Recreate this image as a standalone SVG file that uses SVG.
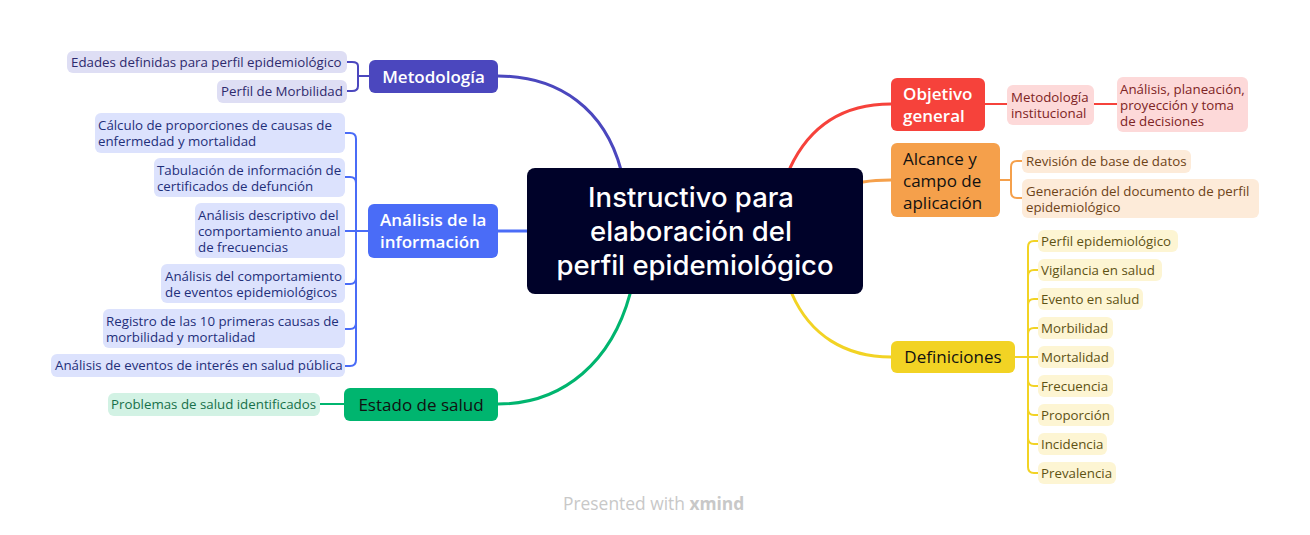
<svg xmlns="http://www.w3.org/2000/svg" width="1310" height="535" viewBox="0 0 1310 535">
<style>
text{font-family:"Open Sans","Liberation Sans",sans-serif;}
.sub{font-size:13.3px;}
.main{font-size:17px;font-weight:600;}
.mainr{font-size:17px;font-weight:500;fill:#111;}
.c{fill:none;stroke-linecap:round;stroke-linejoin:round;}
</style>
<rect width="1310" height="535" fill="#fff"/>
<g id="connectors">
  <path class="c" d="M621 170 C605 110 560 76 498 76" stroke="#4B47BE" stroke-width="3"/>
  <path class="c" d="M498 231 H527" stroke="#4A6CF7" stroke-width="3"/>
  <path class="c" d="M630 294 C612 360 565 404 498 404" stroke="#00B56F" stroke-width="3"/>
  <path class="c" d="M790 168 C810 125 845 104 891 104" stroke="#F6423B" stroke-width="3"/>
  <path class="c" d="M863 182 C875 180 880 180 891 180" stroke="#F5A04B" stroke-width="3"/>
  <path class="c" d="M792 294 C810 335 845 357 891 357" stroke="#F2D324" stroke-width="3"/>
  <g stroke="#4B47BE" stroke-width="2" class="c">
    <path d="M369 76 H358 V66 Q358 62 352 62 H347"/>
    <path d="M358 76 V86 Q358 91 352 91 H347"/>
  </g>
  <g stroke="#4A6CF7" stroke-width="2" class="c">
    <path d="M368 231 H345"/>
    <path d="M356 231 V139 Q356 133 350 133 H345"/>
    <path d="M356 231 V183 Q356 177 350 177 H345"/>
    <path d="M356 231 V278 Q356 284 350 284 H345"/>
    <path d="M356 231 V323 Q356 329 350 329 H345"/>
    <path d="M356 231 V360 Q356 366 350 366 H345"/>
  </g>
  <path class="c" d="M344 404 H320" stroke="#00B56F" stroke-width="2"/>
  <g stroke="#F6423B" stroke-width="2" class="c">
    <path d="M985 104 H1007"/>
    <path d="M1094 104 H1117"/>
  </g>
  <g stroke="#F5A04B" stroke-width="2" class="c">
    <path d="M1000 180 H1011 V167 Q1011 161 1017 161 H1022"/>
    <path d="M1011 180 V192 Q1011 198 1017 198 H1022"/>
  </g>
  <g stroke="#F2D324" stroke-width="2" class="c">
    <path d="M1015 357 H1038"/>
    <path d="M1028 357 V247 Q1028 241 1034 241 H1038"/>
    <path d="M1028 357 V276 Q1028 270 1034 270 H1038"/>
    <path d="M1028 357 V305 Q1028 299 1034 299 H1038"/>
    <path d="M1028 357 V334 Q1028 328 1034 328 H1038"/>
    <path d="M1028 357 V380 Q1028 386 1034 386 H1038"/>
    <path d="M1028 357 V409 Q1028 415 1034 415 H1038"/>
    <path d="M1028 357 V438 Q1028 444 1034 444 H1038"/>
    <path d="M1028 357 V467 Q1028 473 1034 473 H1038"/>
  </g>
</g>

<g id="central">
  <rect x="527" y="168" width="336" height="126" rx="8" fill="#000229"/>
  <g fill="#fff" font-family="Inter, 'Open Sans', sans-serif" font-size="27.5" font-weight="500" text-anchor="middle">
    <text x="691" y="207" style="font-family:Inter,'Open Sans',sans-serif">Instructivo para</text>
    <text x="691" y="241" style="font-family:Inter,'Open Sans',sans-serif">elaboración del</text>
    <text x="695" y="275" style="font-family:Inter,'Open Sans',sans-serif">perfil epidemiológico</text>
  </g>
</g>

<g id="metodologia">
  <rect x="369" y="60" width="129" height="33" rx="6" fill="#4B47BE"/>
  <text class="main" x="433.5" y="82.5" fill="#fff" text-anchor="middle">Metodología</text>
</g>
<g id="met-1">
  <rect x="67" y="51" width="280" height="22" rx="6" fill="#DEDEF4"/>
  <text class="sub" x="71" y="66.5" fill="#2E2A6E">Edades definidas para perfil epidemiológico</text>
</g>
<g id="met-2">
  <rect x="217" y="80" width="130" height="23" rx="6" fill="#DEDEF4"/>
  <text class="sub" x="221" y="96" fill="#2E2A6E">Perfil de Morbilidad</text>
</g>

<g id="analisis">
  <rect x="368" y="204" width="130" height="54" rx="6" fill="#4A6CF7"/>
  <text class="main" x="380" y="226" fill="#fff">Análisis de la</text>
  <text class="main" x="380" y="248" fill="#fff">información</text>
</g>
<g id="an-1">
  <rect x="95" y="113" width="250" height="40" rx="6" fill="#DCE2FD"/>
  <text class="sub" x="98" y="130" fill="#1F2F7A">Cálculo de proporciones de causas de</text>
  <text class="sub" x="98" y="146" fill="#1F2F7A">enfermedad y mortalidad</text>
</g>
<g id="an-2">
  <rect x="154" y="158" width="191" height="39" rx="6" fill="#DCE2FD"/>
  <text class="sub" x="157" y="175" fill="#1F2F7A">Tabulación de información de</text>
  <text class="sub" x="157" y="191" fill="#1F2F7A">certificados de defunción</text>
</g>
<g id="an-3">
  <rect x="195" y="203" width="150" height="55" rx="6" fill="#DCE2FD"/>
  <text class="sub" x="198" y="220" fill="#1F2F7A">Análisis descriptivo del</text>
  <text class="sub" x="198" y="236" fill="#1F2F7A">comportamiento anual</text>
  <text class="sub" x="198" y="252" fill="#1F2F7A">de frecuencias</text>
</g>
<g id="an-4">
  <rect x="161" y="264" width="184" height="39" rx="6" fill="#DCE2FD"/>
  <text class="sub" x="165" y="281" fill="#1F2F7A">Análisis del comportamiento</text>
  <text class="sub" x="165" y="297" fill="#1F2F7A">de eventos epidemiológicos</text>
</g>
<g id="an-5">
  <rect x="103" y="309" width="242" height="39" rx="6" fill="#DCE2FD"/>
  <text class="sub" x="106" y="326" fill="#1F2F7A">Registro de las 10 primeras causas de</text>
  <text class="sub" x="106" y="342" fill="#1F2F7A">morbilidad y mortalidad</text>
</g>
<g id="an-6">
  <rect x="51" y="354" width="294" height="23" rx="6" fill="#DCE2FD"/>
  <text class="sub" x="55" y="370" fill="#1F2F7A">Análisis de eventos de interés en salud pública</text>
</g>

<g id="estado">
  <rect x="344" y="388" width="154" height="33" rx="6" fill="#00B56F"/>
  <text class="mainr" x="421" y="410.5" text-anchor="middle">Estado de salud</text>
</g>
<g id="est-1">
  <rect x="108" y="393" width="212" height="23" rx="6" fill="#D2F2E4"/>
  <text class="sub" x="111" y="409" fill="#17704A">Problemas de salud identificados</text>
</g>

<g id="objetivo">
  <rect x="891" y="78" width="94" height="53" rx="6" fill="#F6423B"/>
  <text class="main" x="903" y="100" fill="#fff">Objetivo</text>
  <text class="main" x="903" y="122" fill="#fff">general</text>
</g>
<g id="obj-1">
  <rect x="1007" y="85" width="87" height="40" rx="6" fill="#FDD9D9"/>
  <text class="sub" x="1011" y="102" fill="#7E2424">Metodología</text>
  <text class="sub" x="1011" y="118" fill="#7E2424">institucional</text>
</g>
<g id="obj-2">
  <rect x="1117" y="77" width="131" height="55" rx="6" fill="#FDD9D9"/>
  <text class="sub" x="1120" y="94" fill="#7E2424">Análisis, planeación,</text>
  <text class="sub" x="1120" y="110" fill="#7E2424">proyección y toma</text>
  <text class="sub" x="1120" y="126" fill="#7E2424">de decisiones</text>
</g>

<g id="alcance">
  <rect x="891" y="143" width="109" height="74" rx="6" fill="#F5A04B"/>
  <text class="mainr" x="903" y="165">Alcance y</text>
  <text class="mainr" x="903" y="187">campo de</text>
  <text class="mainr" x="903" y="209">aplicación</text>
</g>
<g id="alc-1">
  <rect x="1022" y="150" width="169" height="23" rx="6" fill="#FDEBD9"/>
  <text class="sub" x="1026" y="166" fill="#6E4418">Revisión de base de datos</text>
</g>
<g id="alc-2">
  <rect x="1022" y="179" width="237" height="39" rx="6" fill="#FDEBD9"/>
  <text class="sub" x="1026" y="196" fill="#6E4418">Generación del documento de perfil</text>
  <text class="sub" x="1026" y="212" fill="#6E4418">epidemiológico</text>
</g>

<g id="definiciones">
  <rect x="891" y="341" width="124" height="32" rx="6" fill="#F2D324"/>
  <text class="mainr" x="953" y="363" text-anchor="middle">Definiciones</text>
</g>
<g id="def-1"><rect x="1038" y="230" width="140" height="22" rx="6" fill="#FDF5D3"/><text class="sub" x="1041" y="245.5" fill="#5E5214">Perfil epidemiológico</text></g>
<g id="def-2"><rect x="1038" y="259" width="124" height="22" rx="6" fill="#FDF5D3"/><text class="sub" x="1041" y="274.5" fill="#5E5214">Vigilancia en salud</text></g>
<g id="def-3"><rect x="1038" y="288" width="105" height="22" rx="6" fill="#FDF5D3"/><text class="sub" x="1041" y="303.5" fill="#5E5214">Evento en salud</text></g>
<g id="def-4"><rect x="1038" y="317" width="75" height="22" rx="6" fill="#FDF5D3"/><text class="sub" x="1041" y="332.5" fill="#5E5214">Morbilidad</text></g>
<g id="def-5"><rect x="1038" y="346" width="76" height="22" rx="6" fill="#FDF5D3"/><text class="sub" x="1041" y="361.5" fill="#5E5214">Mortalidad</text></g>
<g id="def-6"><rect x="1038" y="375" width="75" height="22" rx="6" fill="#FDF5D3"/><text class="sub" x="1041" y="390.5" fill="#5E5214">Frecuencia</text></g>
<g id="def-7"><rect x="1038" y="404" width="76" height="22" rx="6" fill="#FDF5D3"/><text class="sub" x="1041" y="419.5" fill="#5E5214">Proporción</text></g>
<g id="def-8"><rect x="1038" y="433" width="69" height="22" rx="6" fill="#FDF5D3"/><text class="sub" x="1041" y="448.5" fill="#5E5214">Incidencia</text></g>
<g id="def-9"><rect x="1038" y="462" width="78" height="22" rx="6" fill="#FDF5D3"/><text class="sub" x="1041" y="477.5" fill="#5E5214">Prevalencia</text></g>

<g id="footer">
  <text x="563" y="510" font-size="17.4" fill="#C8C8C8">Presented with <tspan font-weight="bold">xmind</tspan></text>
</g>
</svg>
